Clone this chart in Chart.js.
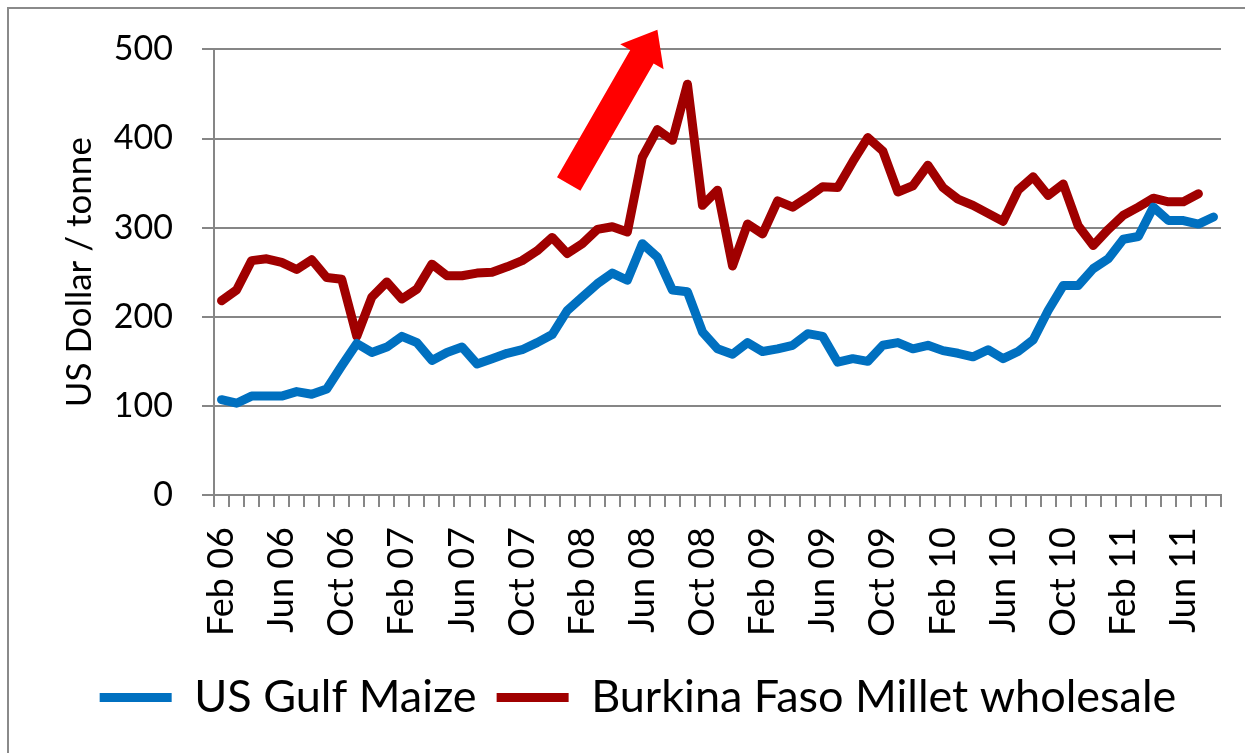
<!DOCTYPE html>
<html lang="en">
<head>
    <meta charset="UTF-8">
    <title>US Gulf Maize vs Burkina Faso Millet</title>
    <script src="https://cdn.jsdelivr.net/npm/chart.js@4.4.0/dist/chart.umd.min.js"></script>
    <style>
        html, body {
            margin: 0;
            padding: 0;
            background: #fff;
            overflow: hidden;
        }
        .chart-wrap {
            position: absolute;
            left: 0;
            top: 0;
            width: 1245px;
            height: 753px;
        }
        .chart-frame {
            position: absolute;
            left: 7px;
            top: 7px;
            width: 1300px;
            height: 800px;
            border: 2px solid #8a8a8a;
            pointer-events: none;
        }
    </style>
</head>
<body>
    <div class="chart-wrap">
        <canvas id="priceChart"></canvas>
    </div>
    <div class="chart-frame"></div>

    <script>
        // Months, Feb 06 .. Aug 11
        const months = [
            'Feb 06', 'Mar 06', 'Apr 06', 'May 06', 'Jun 06', 'Jul 06', 'Aug 06', 'Sep 06', 'Oct 06', 'Nov 06', 'Dec 06',
            'Jan 07', 'Feb 07', 'Mar 07', 'Apr 07', 'May 07', 'Jun 07', 'Jul 07', 'Aug 07', 'Sep 07', 'Oct 07', 'Nov 07', 'Dec 07',
            'Jan 08', 'Feb 08', 'Mar 08', 'Apr 08', 'May 08', 'Jun 08', 'Jul 08', 'Aug 08', 'Sep 08', 'Oct 08', 'Nov 08', 'Dec 08',
            'Jan 09', 'Feb 09', 'Mar 09', 'Apr 09', 'May 09', 'Jun 09', 'Jul 09', 'Aug 09', 'Sep 09', 'Oct 09', 'Nov 09', 'Dec 09',
            'Jan 10', 'Feb 10', 'Mar 10', 'Apr 10', 'May 10', 'Jun 10', 'Jul 10', 'Aug 10', 'Sep 10', 'Oct 10', 'Nov 10', 'Dec 10',
            'Jan 11', 'Feb 11', 'Mar 11', 'Apr 11', 'May 11', 'Jun 11', 'Jul 11', 'Aug 11'
        ];

        // US Dollar / tonne
        const gulfMaize = [
            107, 103, 111, 111, 111, 116, 113, 119, 145, 170, 160,
            166, 178, 171, 151, 160, 166, 147, 153, 159, 163, 171, 180,
            207, 222, 237, 249, 241, 282, 267, 230, 228, 183, 164, 158,
            171, 161, 164, 168, 181, 178, 149, 153, 150, 168, 171, 164,
            168, 162, 159, 155, 163, 153, 161, 174, 207, 235, 235, 254,
            265, 287, 290, 323, 308, 308, 304, 312
        ];

        const burkinaMillet = [
            218, 230, 263, 265, 261, 253, 264, 244, 242, 178, 222,
            239, 220, 231, 259, 246, 246, 249, 250, 256, 263, 274, 289,
            271, 282, 298, 301, 295, 379, 410, 398, 461, 325, 342, 257,
            304, 293, 330, 323, 334, 346, 345, 374, 401, 386, 340, 347,
            370, 345, 332, 325, 316, 307, 342, 357, 336, 349, 302, 280,
            298, 314, 323, 333, 329, 329, 338, null
        ];

        const yTicks = [0, 100, 200, 300, 400, 500];
        const labelEvery = 4;

        // red arrow annotation, in (month index, value) terms
        const arrowTail = [23.1, 349];
        const arrowTip = [29.0, 522];

        const FONT = 'Lato, "Liberation Sans", sans-serif';
        const GRID = '#868686';

        const arrowPlugin = {
            id: 'redArrow',
            afterDatasetsDraw(chart) {
                const xs = chart.scales.x, ys = chart.scales.y;
                const x0 = xs.getPixelForValue(arrowTail[0]), y0 = ys.getPixelForValue(arrowTail[1]);
                const x1 = xs.getPixelForValue(arrowTip[0]), y1 = ys.getPixelForValue(arrowTip[1]);
                const len = Math.hypot(x1 - x0, y1 - y0);
                const ux = (x1 - x0) / len, uy = (y1 - y0) / len;
                const px = -uy, py = ux;
                const shaft = 13.5, head = 25, headLen = 31;
                const bx = x1 - ux * headLen, by = y1 - uy * headLen;
                const ctx = chart.ctx;
                ctx.save();
                ctx.fillStyle = '#ff0000';
                ctx.beginPath();
                ctx.moveTo(x0 + px * shaft, y0 + py * shaft);
                ctx.lineTo(bx + px * shaft, by + py * shaft);
                ctx.lineTo(bx + px * head, by + py * head);
                ctx.lineTo(x1, y1);
                ctx.lineTo(bx - px * head, by - py * head);
                ctx.lineTo(bx - px * shaft, by - py * shaft);
                ctx.lineTo(x0 - px * shaft, y0 - py * shaft);
                ctx.closePath();
                ctx.fill();
                ctx.restore();
            }
        };

        const ctx = document.getElementById('priceChart').getContext('2d');
        const priceChart = new Chart(ctx, {
            type: 'line',
            data: {
                labels: months,
                datasets: [
                    {
                        label: 'US Gulf Maize',
                        data: gulfMaize,
                        borderColor: '#0070c0',
                        backgroundColor: '#0070c0',
                        borderWidth: 9,
                        pointRadius: 0,
                        tension: 0,
                        borderJoinStyle: 'round',
                        borderCapStyle: 'round'
                    },
                    {
                        label: 'Burkina Faso Millet wholesale',
                        data: burkinaMillet,
                        borderColor: '#a00000',
                        backgroundColor: '#a00000',
                        borderWidth: 9,
                        pointRadius: 0,
                        tension: 0,
                        borderJoinStyle: 'round',
                        borderCapStyle: 'round'
                    }
                ]
            },
            options: {
                responsive: true,
                maintainAspectRatio: false,
                animation: false,
                layout: {
                    padding: { left: 55, top: 49, right: 24, bottom: 23 }
                },
                plugins: {
                    tooltip: { enabled: false },
                    legend: {
                        position: 'bottom',
                        labels: {
                            usePointStyle: true,
                            pointStyle: 'line',
                            pointStyleWidth: 72,
                            padding: 20,
                            color: '#000',
                            font: { family: FONT, size: 45 }
                        }
                    }
                },
                scales: {
                    x: {
                        offset: true,
                        afterFit: (scale) => {
                            scale.height = 160;
                            scale.paddingRight = 0;
                            scale.paddingLeft = 0;
                        },
                        grid: {
                            offset: true,
                            drawOnChartArea: false,
                            drawTicks: true,
                            tickLength: 12,
                            color: GRID,
                            lineWidth: 2
                        },
                        border: { color: GRID, width: 2 },
                        ticks: {
                            autoSkip: false,
                            maxRotation: 90,
                            minRotation: 90,
                            padding: 20,
                            color: '#000',
                            font: { family: FONT, size: 36 },
                            callback: function (value, index) {
                                return index % labelEvery === 0 ? months[index] : '';
                            }
                        }
                    },
                    y: {
                        min: yTicks[0],
                        max: yTicks[yTicks.length - 1],
                        afterFit: (scale) => { scale.width = 159; },
                        afterBuildTicks: (scale) => {
                            scale.ticks = yTicks.map(v => ({ value: v }));
                        },
                        title: {
                            display: true,
                            text: 'US Dollar / tonne',
                            color: '#000',
                            font: { family: FONT, size: 35 }
                        },
                        grid: {
                            color: GRID,
                            lineWidth: 2,
                            tickLength: 12
                        },
                        border: { color: GRID, width: 2 },
                        ticks: {
                            padding: 29,
                            color: '#000',
                            font: { family: FONT, size: 34 }
                        }
                    }
                }
            },
            plugins: [arrowPlugin]
        });
    </script>
</body>
</html>
